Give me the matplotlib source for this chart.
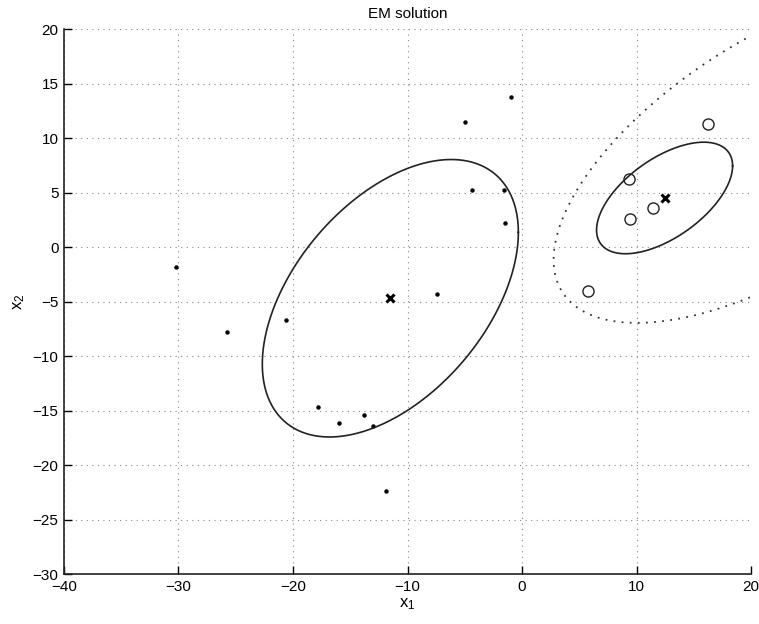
import numpy as np
import matplotlib
matplotlib.use("Agg")
import matplotlib.pyplot as plt

plt.rcParams['font.family'] = ['Liberation Sans', 'DejaVu Sans']

# observed points, class 1 (dots) and class 2 (circles)
dots_x = [-30.2, -25.8, -20.6, -17.8, -16.0, -13.8, -13.0, -11.9, -7.4, -5.0, -4.4, -1.6, -1.5, -1.0]
dots_y = [-1.8, -7.8, -6.7, -14.7, -16.1, -15.4, -16.4, -22.4, -4.3, 11.5, 5.2, 5.2, 2.2, 13.8]
circ_x = [16.2, 9.3, 11.4, 9.4, 5.8]
circ_y = [11.3, 6.2, 3.6, 2.6, -4.0]

# EM estimated means and covariances
mean1 = [-11.5, -4.7]
cov1 = [[125.0, 67.6], [67.6, 162.0]]
mean2 = [12.45, 4.5]
cov2 = [[35.3, 17.5], [17.5, 26.2]]
# broad dotted contour
mean3 = [22.2, 8.5]
cov3 = [[378.0, 188.0], [188.0, 239.0]]


def ellipse(mu, cov, n=300):
    t = np.linspace(0, 2 * np.pi, n)
    L = np.linalg.cholesky(np.array(cov))
    pts = L @ np.vstack([np.cos(t), np.sin(t)])
    return pts[0] + mu[0], pts[1] + mu[1]


fig = plt.figure(figsize=(7.59, 6.24), dpi=100)
ax = fig.add_axes([0.0843, 0.0801, 0.9052, 0.8734])

ax.grid(True, linestyle=(0, (1, 4)), color='#888888', linewidth=0.8)
ax.set_axisbelow(True)

ax.plot(dots_x, dots_y, 'o', color='black', markersize=2.2)
ax.plot(circ_x, circ_y, 'o', mfc='none', mec='#222222', markersize=8, mew=1.0)

ex, ey = ellipse(mean1, cov1)
ax.plot(ex, ey, color='#222222', linewidth=1.2)
ex, ey = ellipse(mean2, cov2)
ax.plot(ex, ey, color='#222222', linewidth=1.2)
ex, ey = ellipse(mean3, cov3, 600)
ax.plot(ex, ey, color='#333333', linewidth=1.3, linestyle=(0, (1, 3.5)))

ax.plot([mean1[0], mean2[0]], [mean1[1], mean2[1]], 'x', color='black',
        markersize=6, mew=2.2)

ax.set_xlim(-40, 20)
ax.set_ylim(-30, 20)
ax.set_xticks(range(-40, 21, 10))
ax.set_yticks(range(-30, 21, 5))
ax.tick_params(direction='in', length=6, width=1, labelsize=11, pad=4)
ax.spines['top'].set_visible(False)
ax.spines['right'].set_visible(False)
for s in ('left', 'bottom'):
    ax.spines[s].set_linewidth(1.2)
    ax.spines[s].set_color('#222222')

ax.set_title('EM solution', fontsize=11, pad=8)
ax.set_xlabel(r'$\mathregular{x_1}$', fontsize=12, labelpad=2)
ax.set_ylabel(r'$\mathregular{x_2}$', fontsize=12, labelpad=4)

fig.savefig('out.png', dpi=100)
